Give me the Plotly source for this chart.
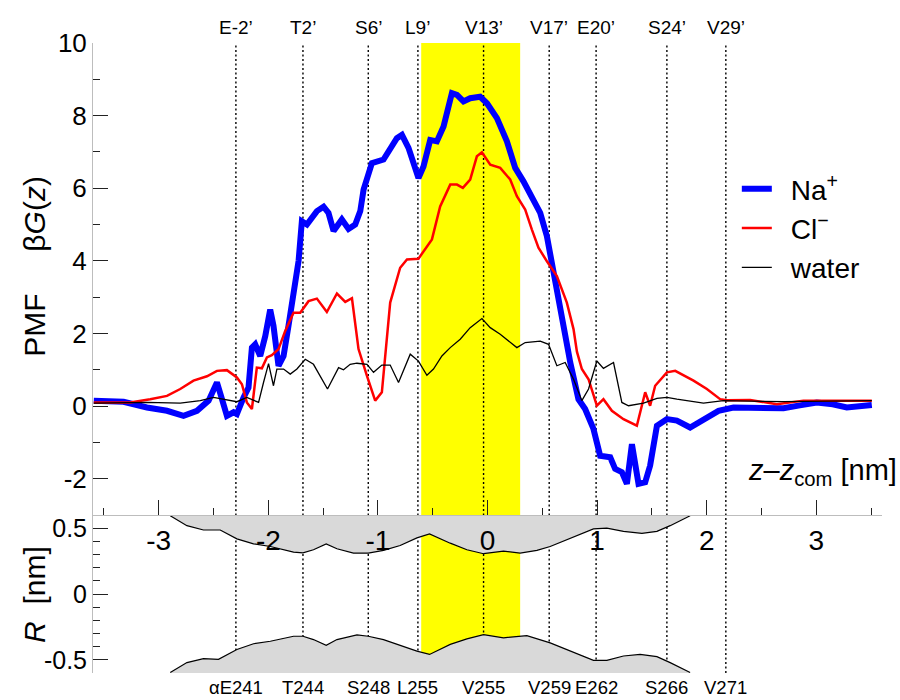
import plotly.graph_objects as go

# ---------------- data ----------------
na_z = [-3.593, -3.321, -3.108, -2.925, -2.774, -2.651, -2.545, -2.469, -2.423, -2.378,
        -2.317, -2.287, -2.226, -2.181, -2.150, -2.120, -2.074, -2.028, -1.983, -1.953,
        -1.907, -1.861, -1.816, -1.770, -1.724, -1.694, -1.648, -1.557, -1.496, -1.451,
        -1.405, -1.329, -1.268, -1.207, -1.161, -1.131, -1.055, -0.949, -0.827, -0.781,
        -0.721, -0.630, -0.584, -0.523, -0.462, -0.401, -0.325, -0.279, -0.219, -0.158,
        -0.067, -0.005, 0.086, 0.177, 0.253, 0.328, 0.405, 0.481, 0.542, 0.602,
        0.663, 0.739, 0.755, 0.830, 0.891, 0.967, 1.028, 1.120, 1.165, 1.226,
        1.272, 1.318, 1.378, 1.439, 1.484, 1.546, 1.637, 1.728, 1.849, 1.971,
        2.108, 2.245, 2.450, 2.701, 2.850, 3.005, 3.150, 3.279, 3.507]
na_g = [0.15, 0.12, -0.04, -0.13, -0.27, -0.13, 0.15, 0.65, 0.19, -0.27,
        -0.17, -0.22, 0.24, 0.51, 1.61, 1.70, 1.38, 1.93, 2.66, 2.21,
        1.11, 1.38, 2.21, 3.21, 4.00, 5.09, 5.00, 5.37, 5.49, 5.32,
        4.82, 5.14, 4.88, 5.00, 5.37, 5.96, 6.69, 6.79, 7.38, 7.47,
        7.11, 6.28, 6.60, 7.33, 7.29, 7.70, 8.62, 8.57, 8.39, 8.48,
        8.52, 8.34, 7.93, 7.29, 6.56, 6.19, 5.78, 5.32, 4.68, 3.76,
        2.66, 1.47, 1.20, 0.19, -0.08, -0.63, -1.37, -1.41, -1.73, -1.82,
        -2.14, -1.05, -2.14, -2.10, -1.64, -0.54, -0.36, -0.40, -0.59, -0.36,
        -0.13, -0.04, -0.05, -0.06, 0.02, 0.10, 0.05, -0.04, 0.03]

cl_z = [-3.593, -3.260, -3.078, -2.925, -2.804, -2.683, -2.560, -2.469, -2.378, -2.287,
        -2.241, -2.196, -2.150, -2.120, -2.105, -2.059, -2.013, -1.968, -1.907, -1.846,
        -1.770, -1.709, -1.633, -1.557, -1.466, -1.374, -1.298, -1.237, -1.177, -1.100,
        -1.025, -0.964, -0.888, -0.797, -0.735, -0.630, -0.568, -0.507, -0.432, -0.340,
        -0.279, -0.225, -0.158, -0.097, -0.051, 0.025, 0.116, 0.207, 0.268, 0.344,
        0.405, 0.465, 0.542, 0.633, 0.724, 0.785, 0.816, 0.861, 0.922, 0.998,
        1.058, 1.135, 1.241, 1.363, 1.439, 1.484, 1.530, 1.637, 1.713, 1.880,
        2.002, 2.123, 2.184, 2.397, 2.640, 2.883, 3.507]
cl_g = [0.10, 0.10, 0.19, 0.28, 0.47, 0.70, 0.82, 0.97, 0.99, 0.79,
        0.60, 0.10, -0.08, 0.74, 1.06, 1.04, 1.34, 1.40, 1.57, 2.07,
        2.57, 2.57, 2.89, 2.96, 2.59, 3.10, 2.87, 2.97, 1.57, 0.83,
        0.15, 0.38, 2.85, 3.81, 4.04, 4.06, 4.31, 4.59, 5.50, 6.10,
        6.10, 6.01, 6.24, 6.88, 6.99, 6.65, 6.56, 6.24, 5.78, 5.41,
        4.86, 4.36, 3.99, 3.58, 2.85, 2.12, 1.50, 1.02, 0.74, 0.01,
        0.19, -0.13, -0.36, -0.54, 0.38, 0.01, 0.56, 0.93, 0.97, 0.70,
        0.47, 0.19, 0.16, 0.17, 0.05, 0.15, 0.15]

w_z = [-3.593, -3.108, -2.804, -2.621, -2.500, -2.409, -2.287, -2.196, -2.089, -2.044,
       -1.998, -1.953, -1.922, -1.861, -1.800, -1.739, -1.663, -1.588, -1.527, -1.460,
       -1.359, -1.314, -1.253, -1.192, -1.100, -1.040, -0.964, -0.888, -0.812, -0.705,
       -0.630, -0.553, -0.493, -0.416, -0.340, -0.249, -0.158, -0.051, 0.025, 0.116,
       0.268, 0.344, 0.481, 0.557, 0.633, 0.709, 0.785, 0.861, 0.922, 0.998,
       1.058, 1.150, 1.226, 1.287, 1.424, 1.546, 1.637, 1.728, 1.971, 2.153,
       2.701, 3.507]
w_g = [0.08, 0.10, 0.08, 0.15, 0.24, 0.19, 0.12, 0.24, 0.10, 0.65,
       1.17, 0.56, 1.02, 1.02, 0.88, 1.02, 1.29, 1.15, 0.83, 0.47,
       1.06, 1.00, 1.15, 1.18, 1.15, 0.93, 1.13, 1.13, 0.65, 1.43,
       1.24, 0.85, 1.02, 1.38, 1.61, 1.84, 2.16, 2.41, 2.16, 1.98,
       1.61, 1.75, 1.79, 1.70, 1.11, 1.20, 0.74, 0.15, 0.47, 1.24,
       1.04, 1.20, 0.10, 0.01, 0.08, 0.21, 0.24, 0.19, 0.08, 0.15,
       0.12, 0.15]

# pore radius profile (upper and lower walls)
up_z = [-2.895, -2.743, -2.592, -2.439, -2.287, -2.135, -1.982, -1.770, -1.684, -1.588,
        -1.472, -1.374, -1.223, -1.088, -0.949, -0.797, -0.644, -0.529, -0.340, -0.188,
        -0.036, 0.146, 0.298, 0.451, 0.572, 0.816, 0.967, 1.089, 1.241, 1.409,
        1.546, 1.667, 1.849]
up_r = [0.594, 0.519, 0.486, 0.486, 0.419, 0.381, 0.361, 0.318, 0.313, 0.336,
        0.381, 0.344, 0.311, 0.311, 0.331, 0.368, 0.426, 0.456, 0.386, 0.336,
        0.306, 0.326, 0.311, 0.331, 0.361, 0.444, 0.494, 0.501, 0.476, 0.461,
        0.476, 0.519, 0.594]
lo_z = [-2.895, -2.743, -2.592, -2.455, -2.287, -2.135, -1.982, -1.770, -1.684, -1.588,
        -1.472, -1.374, -1.191, -1.088, -0.949, -0.797, -0.644, -0.529, -0.340, -0.188,
        -0.036, 0.146, 0.359, 0.572, 0.816, 0.967, 1.089, 1.241, 1.393, 1.546,
        1.667, 1.849]
lo_r = [-0.596, -0.521, -0.491, -0.496, -0.421, -0.378, -0.359, -0.321, -0.321, -0.346,
        -0.389, -0.346, -0.311, -0.321, -0.346, -0.389, -0.434, -0.459, -0.383, -0.341,
        -0.308, -0.333, -0.316, -0.371, -0.451, -0.504, -0.504, -0.471, -0.459, -0.476,
        -0.521, -0.596]

res_z = [-2.296, -1.684, -1.088, -0.635, -0.036, 0.563, 0.991, 1.637, 2.175]
top_labels = ["E-2’", "T2’", "S6’", "L9’", "V13’", "V17’", "E20’", "S24’", "V29’"]
bottom_labels = ["αE241", "T244", "S248", "L255", "V255", "V259", "E262", "S266", "V271"]
band = [-0.605, 0.298]

x_ticks = [-3, -2, -1, 0, 1, 2, 3]
x_minor = [-3.5, -2.5, -1.5, -0.5, 0.5, 1.5, 2.5, 3.5]
g_ticks = [-2, 0, 2, 4, 6, 8, 10]
r_ticks = [-0.5, 0, 0.5]

# ---------------- figure ----------------
FONT = "Liberation Sans, Arial, Helvetica, sans-serif"
fig = go.Figure()

# bottom panel (x, y): pore walls
fig.add_trace(go.Scatter(x=up_z + [up_z[-1], up_z[0]], y=up_r + [0.6, 0.6], fill="toself",
                         fillcolor="#d9d9d9", line=dict(width=0), mode="lines",
                         hoverinfo="skip", showlegend=False, xaxis="x", yaxis="y"))
fig.add_trace(go.Scatter(x=lo_z + [lo_z[-1], lo_z[0]], y=lo_r + [-0.6, -0.6], fill="toself",
                         fillcolor="#d9d9d9", line=dict(width=0), mode="lines",
                         hoverinfo="skip", showlegend=False, xaxis="x", yaxis="y"))
fig.add_trace(go.Scatter(x=up_z, y=up_r, mode="lines", line=dict(color="black", width=1.2),
                         showlegend=False, xaxis="x", yaxis="y"))
fig.add_trace(go.Scatter(x=lo_z, y=lo_r, mode="lines", line=dict(color="black", width=1.2),
                         showlegend=False, xaxis="x", yaxis="y"))

# top panel (x2, y2): PMFs
SP = "\u2002"
fig.add_trace(go.Scatter(x=na_z, y=na_g, mode="lines", name=SP + "Na<sup>+</sup>",
                         line=dict(color="#0000ff", width=6), xaxis="x2", yaxis="y2"))
fig.add_trace(go.Scatter(x=cl_z, y=cl_g, mode="lines", name=SP + "Cl<sup>−</sup>",
                         line=dict(color="#ff0000", width=2.5), xaxis="x2", yaxis="y2"))
fig.add_trace(go.Scatter(x=w_z, y=w_g, mode="lines", name=SP + "water",
                         line=dict(color="black", width=1.3), xaxis="x2", yaxis="y2"))

shapes = [dict(type="rect", xref="x", yref="paper", x0=band[0], x1=band[1], y0=0, y1=1,
               fillcolor="#ffff00", line=dict(width=0), layer="below")]
for z in res_z:
    shapes.append(dict(type="line", xref="x", yref="paper", x0=z, x1=z, y0=0, y1=1,
                       line=dict(color="black", width=1.4, dash="2px,2.5px"), layer="below"))

annotations = []
for z, t in zip(res_z, top_labels):
    annotations.append(dict(x=z, y=1, xref="x", yref="paper", text=t, showarrow=False,
                            yanchor="bottom", yshift=3, font=dict(size=19)))
for z, t in zip(res_z, bottom_labels):
    annotations.append(dict(x=z, y=0, xref="x", yref="paper", text=t, showarrow=False,
                            yanchor="top", yshift=-2, font=dict(size=18.5)))
annotations.append(dict(x=-0.0735, y=0.645, xref="paper", yref="paper", xanchor="center",
                        yanchor="middle",
                        text="PMF\u00a0\u00a0\u00a0\u00a0\u00a0β<i>G</i>(<i>z</i>)",
                        textangle=-90, showarrow=False, font=dict(size=30)))
annotations.append(dict(x=-0.0735, y=0.124, xref="paper", yref="paper", xanchor="center",
                        yanchor="middle",
                        text="<i>R</i>\u00a0\u00a0[nm]", textangle=-90,
                        showarrow=False, font=dict(size=30)))
annotations.append(dict(x=1.022, y=0.319, xref="paper", yref="paper",
                        text="<i>z</i>–<i>z</i><sub>com</sub> [nm]", xanchor="right",
                        yanchor="middle", showarrow=False, font=dict(size=29)))

DOM = 158 / 630
axis_common = dict(showgrid=False, zeroline=False, linecolor="#bdbdbd", linewidth=1,
                   tickcolor="#222", tickwidth=1, ticks="inside", ticklen=15,
                   automargin=False)

fig.update_layout(
    width=900, height=700,
    margin=dict(l=93, r=18, t=43, b=27),
    paper_bgcolor="white", plot_bgcolor="rgba(0,0,0,0)",
    font=dict(family=FONT, color="black"),
    xaxis=dict(domain=[0, 1], range=[-3.6, 3.6], anchor="y", showline=False,
               showticklabels=False, ticks="", showgrid=False, zeroline=False),
    yaxis=dict(domain=[0, DOM], range=[-0.6, 0.6], anchor="x", showline=True,
               tickvals=r_ticks, ticktext=["-0.5", "0", "0.5"], tickfont=dict(size=25),
               minor=dict(dtick=0.1, tick0=0, ticks="inside", ticklen=7, tickcolor="#222"),
               **axis_common),
    xaxis2=dict(domain=[0, 1], range=[-3.6, 3.6], anchor="y2", showline=True,
                tickvals=x_ticks, ticktext=[str(v) for v in x_ticks], tickfont=dict(size=28),
                minor=dict(tickvals=x_minor, ticks="inside", ticklen=7, tickcolor="#222"),
                **axis_common),
    yaxis2=dict(domain=[DOM, 1], range=[-3, 10], anchor="x2", showline=True,
                tickvals=g_ticks, ticktext=[str(v) for v in g_ticks], tickfont=dict(size=26),
                minor=dict(dtick=1, tick0=0, ticks="inside", ticklen=7, tickcolor="#222"),
                **axis_common),
    legend=dict(x=0.816, y=0.808, xanchor="left", yanchor="top", bgcolor="rgba(0,0,0,0)",
                font=dict(size=28), tracegroupgap=0),
    shapes=shapes,
    annotations=annotations,
)

fig.write_html("out.html", post_script="document.body.style.margin='0px';",
               config={"displayModeBar": False})
